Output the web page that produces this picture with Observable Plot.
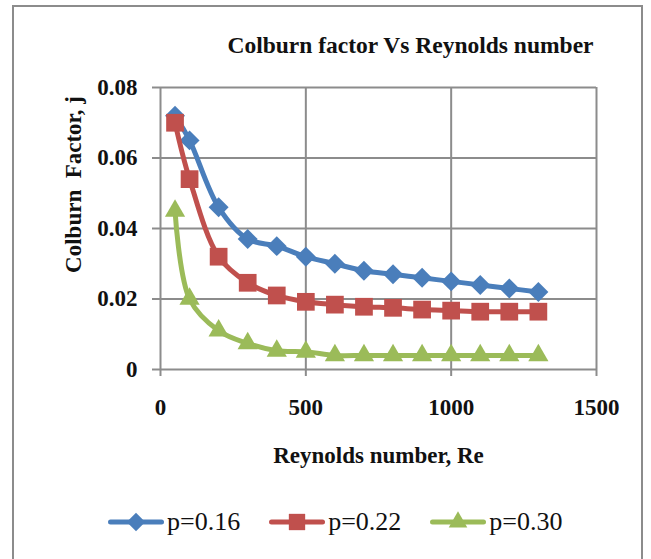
<!DOCTYPE html>
<html><head><meta charset="utf-8">
<script src="https://cdn.jsdelivr.net/npm/d3@7"></script>
<script src="https://cdn.jsdelivr.net/npm/@observablehq/plot@0.6"></script>
<style>
body{margin:0;background:#fff;width:651px;height:559px;overflow:hidden;position:relative;font-family:"Liberation Serif","Times New Roman",serif;}
#frame{position:absolute;left:12px;top:5px;width:627px;height:600px;border:2px solid #8c8c8c;}
#chart{position:absolute;left:0;top:0;}
#legend{position:absolute;left:108px;top:507px;display:flex;align-items:center;gap:29px;font-size:26px;color:#111;}
.entry{display:flex;align-items:center;gap:3px;}
</style></head><body>
<div id="frame"></div><div id="chart"></div><div id="legend"></div>
<script>
const title = "Colburn factor Vs Reynolds number";
const xLabel = "Reynolds number, Re";
const yLabel = "Colburn  Factor, j";
const re = [50,100,200,300,400,500,600,700,800,900,1000,1100,1200,1300];
const p016 = [0.072,0.065,0.046,0.037,0.035,0.032,0.030,0.028,0.027,0.026,0.025,0.024,0.023,0.022];
const p022 = [0.070,0.054,0.032,0.0246,0.021,0.0192,0.0184,0.0178,0.0175,0.017,0.0167,0.0164,0.0164,0.0164];
const p030 = [0.045,0.020,0.011,0.0074,0.0053,0.005,0.004,0.004,0.004,0.004,0.004,0.004,0.004,0.004];
const seriesNames = ["p=0.16","p=0.22","p=0.30"];
const xTicks = [0,500,1000,1500];
const yTicks = [0,0.02,0.04,0.06,0.08];

const colors = ["#4a7ebb","#c0504d","#9bbb59"];
const symbols = ["diamond2","square","triangle"];
const symR = [9,10,7.5];
const d3sym = [d3.symbolDiamond2, d3.symbolSquare, d3.symbolTriangle];
const seriesVals = [p016,p022,p030];

const marks = [
  Plot.gridX(xTicks,{stroke:"#8c8c8c",strokeOpacity:1,strokeWidth:2}),
  Plot.gridY(yTicks,{stroke:"#8c8c8c",strokeOpacity:1,strokeWidth:2}),
  Plot.axisX(xTicks,{tickSize:7,tickPadding:22,stroke:"#8c8c8c",strokeWidth:2,fill:"#111",fontSize:23,fontWeight:"bold",label:null,tickFormat:d=>String(d)}),
  Plot.axisY(yTicks,{tickSize:8,tickPadding:15,stroke:"#8c8c8c",strokeWidth:2,fill:"#111",fontSize:23,fontWeight:"bold",label:null,tickFormat:d=>d===0?"0":d.toFixed(2)}),
  Plot.text([title],{frameAnchor:"top",dx:32,dy:-42,fontSize:23.5,fontWeight:"bold",fill:"#111",lineAnchor:"middle"}),
  Plot.text([xLabel],{frameAnchor:"bottom",dy:86,fontSize:23,fontWeight:"bold",fill:"#111",lineAnchor:"middle"}),
  Plot.text([yLabel],{frameAnchor:"left",rotate:-90,dx:-87,dy:-44,fontSize:23,fontWeight:"bold",fill:"#111",lineAnchor:"middle",textAnchor:"middle"})
];
seriesVals.forEach((vals,i)=>{
  const data = re.map((x,j)=>({x, y: vals[j]}));
  marks.push(Plot.line(data,{x:"x",y:"y",stroke:colors[i],strokeWidth:5,curve:"catmull-rom"}));
  marks.push(Plot.dot(data,{x:"x",y:"y",symbol:()=>symbols[i],r:symR[i],fill:colors[i],stroke:null}));
});

const chart = Plot.plot({
  width:651, height:480,
  marginLeft:160, marginRight:55, marginTop:87, marginBottom:111,
  style:{fontFamily:"'Liberation Serif','Times New Roman',serif",background:"transparent"},
  x:{domain:[0,1500]},
  y:{domain:[0,0.08]},
  symbol:{type:"identity"},
  marks
});
document.getElementById("chart").appendChild(chart);

const legend = d3.select("#legend");
seriesNames.forEach((name,i)=>{
  const e = legend.append("div").attr("class","entry");
  const svg = e.append("svg").attr("width",56).attr("height",24);
  svg.append("line").attr("x1",2.5).attr("x2",53.5).attr("y1",12).attr("y2",12)
    .attr("stroke",colors[i]).attr("stroke-width",5).attr("stroke-linecap","round");
  svg.append("path").attr("transform","translate(28,12)")
    .attr("d",d3.symbol(d3sym[i], symR[i]*symR[i]*Math.PI*0.85)()).attr("fill",colors[i]);
  e.append("span").text(name);
});
</script>
</body></html>
